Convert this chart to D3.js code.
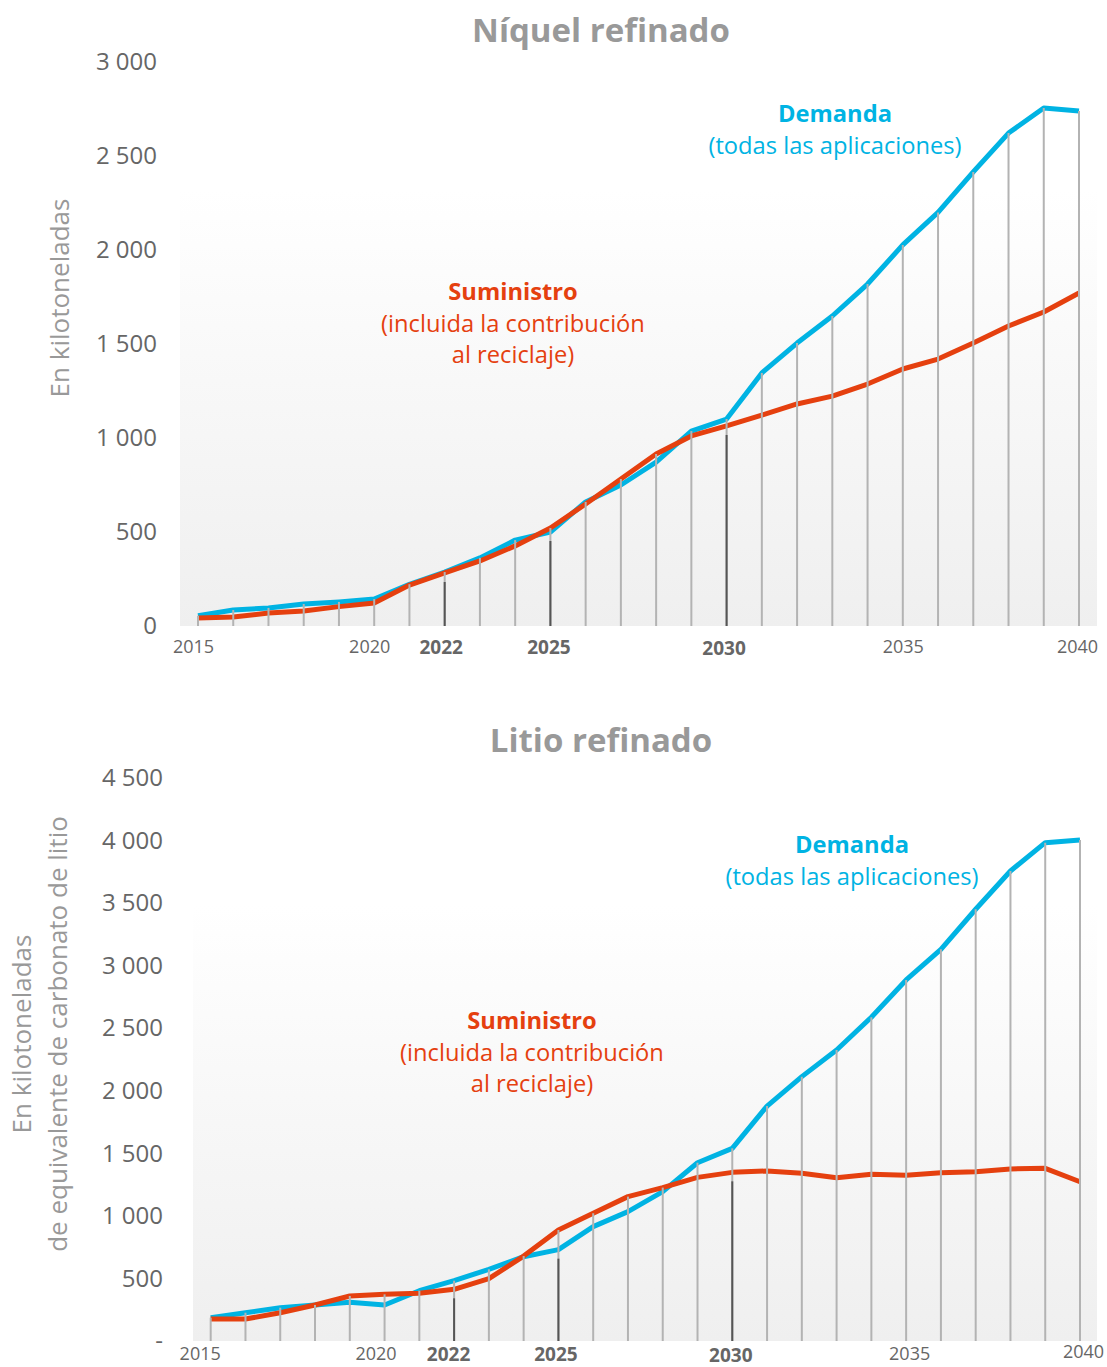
<!DOCTYPE html>
<html><head><meta charset="utf-8">
<script src="https://cdn.jsdelivr.net/npm/d3@7"></script>
<style>
html,body{margin:0;padding:0;background:#fff;}
svg{display:block;font-family:"Open Sans",sans-serif;}
</style></head>
<body>
<svg id="c" width="1107" height="1367"></svg>
<script>
const years = [2015,2016,2017,2018,2019,2020,2021,2022,2023,2024,2025,2026,2027,2028,2029,2030,2031,2032,2033,2034,2035,2036,2037,2038,2039,2040];
const nickelDemand = [55,85,96,117,128,143,222,287,362,457,500,660,750,872,1037,1101,1346,1505,1649,1819,2027,2200,2415,2622,2755,2739];
const nickelSupply = [43,48,69,80,103,122,218,282,346,426,521,649,782,915,1011,1064,1122,1181,1223,1287,1367,1420,1505,1596,1670,1771];
const lithiumDemand = [186,226,266,288,309,288,402,482,573,674,730,914,1034,1194,1425,1540,1878,2113,2326,2588,2886,3131,3451,3757,3983,4005];
const lithiumSupply = [176,176,226,288,360,373,381,413,498,679,887,1021,1154,1226,1308,1348,1359,1340,1305,1332,1324,1345,1353,1375,1380,1273];
const nickelTicks = [0,500,1000,1500,2000,2500,3000];
const lithiumTicks = [0,500,1000,1500,2000,2500,3000,3500,4000,4500];
const xLabelYears = [2015,2020,2022,2025,2030,2035,2040];
const boldYears = [2022,2025,2030];
const titles = ["Níquel refinado","Litio refinado"];
const demandLabel = ["Demanda","(todas las aplicaciones)"];
const supplyLabel = ["Suministro","(incluida la contribución","al reciclaje)"];

const BLUE = "#00b3e3", ORANGE = "#e5400f", GRAY_T = "#999999", GRAY_L = "#666666";
const loc = d3.formatLocale({decimal:",", thousands:" ", grouping:[3], currency:["",""]});
const fmt = loc.format(",d");

const svg = d3.select("#c");
const defs = svg.append("defs");
const grad = defs.append("linearGradient").attr("id","bg").attr("x1",0).attr("y1",0).attr("x2",0).attr("y2",1);
grad.append("stop").attr("offset","0%").attr("stop-color","#ffffff");
grad.append("stop").attr("offset","100%").attr("stop-color","#efefef");

function drawChart(cfg){
  const g = svg.append("g");
  const x = d3.scaleLinear().domain([2015,2040]).range(cfg.xr);
  const y = d3.scaleLinear().domain([0,cfg.max]).range(cfg.yr);

  g.append("rect").attr("x",cfg.bgX[0]).attr("y",cfg.bgTop)
    .attr("width",cfg.bgX[1]-cfg.bgX[0]).attr("height",y(0)-cfg.bgTop)
    .attr("fill","url(#bg)");

  g.append("text").attr("x",601).attr("y",cfg.titleY).attr("text-anchor","middle")
    .attr("font-size",33).attr("font-weight",700).attr("fill",GRAY_T).text(cfg.title);

  const ya = d3.axisLeft(y).tickValues(cfg.ticks).tickSize(0).tickPadding(0)
    .tickFormat(d => d===0 ? cfg.zeroLabel : fmt(d));
  const yg = g.append("g").attr("transform",`translate(${cfg.yLabelX},0)`).call(ya);
  yg.select(".domain").remove();
  yg.selectAll("text").attr("font-size",24).attr("fill",GRAY_L)
    .attr("font-family","Open Sans, sans-serif");

  cfg.yTitle.forEach((t,i)=>{
    g.append("text").attr("transform",`translate(${cfg.yTitleX[i]},${cfg.yTitleCY}) rotate(-90)`)
      .attr("text-anchor","middle").attr("dy","0.35em")
      .attr("font-size",26).attr("fill",GRAY_T).text(t);
  });

  const line = d3.line().x((d,i)=>x(years[i])).y(d=>y(d));
  g.append("path").datum(cfg.demand).attr("d",line).attr("fill","none")
    .attr("stroke",BLUE).attr("stroke-width",5).attr("stroke-linejoin","round");
  g.append("path").datum(cfg.supply).attr("d",line).attr("fill","none")
    .attr("stroke",ORANGE).attr("stroke-width",5).attr("stroke-linejoin","round");

  g.selectAll(".vl").data(years).enter().append("line")
    .attr("x1",d=>x(d)).attr("x2",d=>x(d))
    .attr("y1",y(0)).attr("y2",(d,i)=>y(Math.max(cfg.demand[i],cfg.supply[i])))
    .attr("stroke","#b3b3b3").attr("stroke-width",2);
  g.selectAll(".vd").data(years.filter(d=>boldYears.includes(d))).enter().append("line")
    .attr("x1",d=>x(d)).attr("x2",d=>x(d))
    .attr("y1",y(0)).attr("y2",d=>{const i=years.indexOf(d);return y(Math.min(cfg.demand[i],cfg.supply[i]))+9;})
    .attr("stroke","#555555").attr("stroke-width",2);

  const xa = d3.axisBottom(x).tickValues(xLabelYears).tickSize(0).tickFormat(d=>String(d));
  const xg = g.append("g").attr("transform",`translate(0,${cfg.xLabelY})`).call(xa);
  xg.select(".domain").remove();
  xg.selectAll("text").attr("font-family","Open Sans, sans-serif")
    .attr("font-size",d=>boldYears.includes(d)?19:18)
    .attr("font-weight",d=>boldYears.includes(d)?700:400)
    .attr("fill",GRAY_L)
    .attr("dx",d=>(cfg.xdx[d]||0))
    .attr("y",d=>3+(cfg.xdy[d]||0));

  demandLabel.forEach((t,i)=>{
    g.append("text").attr("x",cfg.demandPos[0]).attr("y",cfg.demandPos[1]+i*32)
      .attr("text-anchor","middle").attr("font-size",23.7)
      .attr("font-weight",i===0?700:400).attr("fill",BLUE).text(t);
  });
  supplyLabel.forEach((t,i)=>{
    g.append("text").attr("x",cfg.supplyPos[0]).attr("y",cfg.supplyPos[1]+i*31.5)
      .attr("text-anchor","middle").attr("font-size",23.7)
      .attr("font-weight",i===0?700:400).attr("fill",ORANGE).text(t);
  });
}

drawChart({
  title:titles[0], titleY:42, xr:[198,1079], yr:[626,62], max:3000, ticks:nickelTicks,
  zeroLabel:"0", yLabelX:157, bgX:[180,1097], bgTop:190,
  yTitle:["En kilotoneladas"], yTitleX:[60], yTitleCY:298,
  demand:nickelDemand, supply:nickelSupply, xLabelY:637,
  xdx:{2015:-5,2020:-5,2022:-4,2025:-2,2030:-3,2035:0,2040:-2}, xdy:{2030:1},
  demandPos:[835,122], supplyPos:[513,300]
});
drawChart({
  title:titles[1], titleY:752, xr:[210.7,1080], yr:[1341,778], max:4500, ticks:lithiumTicks,
  zeroLabel:"-", yLabelX:163, bgX:[193,1097], bgTop:905,
  yTitle:["En kilotoneladas","de equivalente de carbonato de litio"], yTitleX:[22,58], yTitleCY:1034,
  demand:lithiumDemand, supply:lithiumSupply, xLabelY:1344,
  xdx:{2015:-11,2020:-9,2022:-6,2025:-3,2030:-2,2035:3,2040:3}, xdy:{2030:1,2040:-2},
  demandPos:[852,853], supplyPos:[532,1029]
});
</script>
</body></html>
